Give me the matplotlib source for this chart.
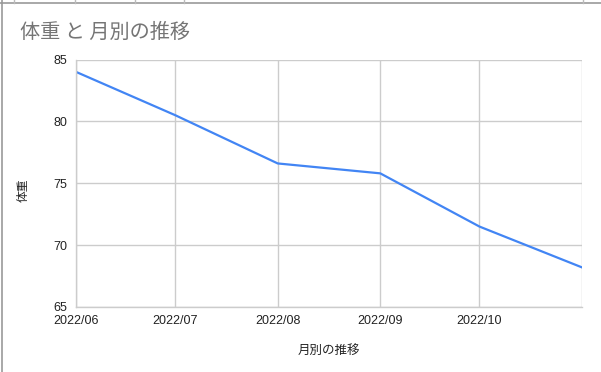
import matplotlib
matplotlib.use("Agg")
import matplotlib.pyplot as plt
from matplotlib.lines import Line2D
import datetime as dt

plt.rcParams['font.family'] = ['Liberation Sans', 'Noto Sans CJK JP', 'DejaVu Sans']

dates = ["2022-06-01", "2022-07-01", "2022-08-01", "2022-09-01", "2022-10-01", "2022-11-01"]
weights = [84.0, 80.5, 76.6, 75.8, 71.5, 68.2]
tick_labels = ["2022/06", "2022/07", "2022/08", "2022/09", "2022/10"]
y_ticks = [65, 70, 75, 80, 85]

title = "体重 と 月別の推移"
x_label = "月別の推移"
y_label = "体重"

x = [dt.datetime.strptime(d, "%Y-%m-%d") for d in dates]

W, H = 601, 372
fig = plt.figure(figsize=(W / 100, H / 100), dpi=100)
ax = fig.add_axes([76 / W, 1 - 307 / H, (582 - 76) / W, (307 - 59.5) / H])

grid_c = "#cccccc"
ax.plot(x, weights, color="#4285F4", linewidth=1.6, solid_joinstyle="round")
ax.set_xlim(x[0], x[-1])
ax.set_ylim(65, 85)
ax.set_yticks(y_ticks)
ax.set_xticks(x)
ax.set_xticklabels(tick_labels + [""])
ax.grid(True, color=grid_c, linewidth=1.0)
ax.set_axisbelow(True)
for s in ["top", "right"]:
    ax.spines[s].set_visible(False)
for s in ["left", "bottom"]:
    ax.spines[s].set_color(grid_c)
    ax.spines[s].set_linewidth(1.0)
ax.tick_params(length=0, labelsize=9, colors="#222222", pad=6)
ax.tick_params(axis="x", pad=5.5)
for lab in ax.get_xticklabels():
    lab.set_horizontalalignment("center")

fig.text(20 / W, 1 - 32 / H, title, fontsize=14.5, color="#757575",
         va="center", ha="left", family=['Noto Sans CJK JP', 'Liberation Sans'])
fig.text(23 / W, 1 - 190 / H, y_label, fontsize=8.5, color="#222222", rotation=90,
         va="center", ha="center", family=['Noto Sans CJK JP'])
fig.text(329 / W, 1 - 350 / H, x_label, fontsize=9, color="#222222",
         va="center", ha="center", family=['Noto Sans CJK JP'])

# outer frame lines
fig.add_artist(Line2D([1.5 / W, 1.5 / W], [0, 1], color="#999999", linewidth=1.2))
fig.add_artist(Line2D([0, 1], [1 - 2.5 / H, 1 - 2.5 / H], color="#999999", linewidth=1.2))
for px in [14, 75, 135, 184, 583]:
    fig.add_artist(Line2D([px / W, px / W], [1 - 2.5 / H, 1], color="#bbbbbb", linewidth=1.0))

fig.savefig("out.png", dpi=100)
